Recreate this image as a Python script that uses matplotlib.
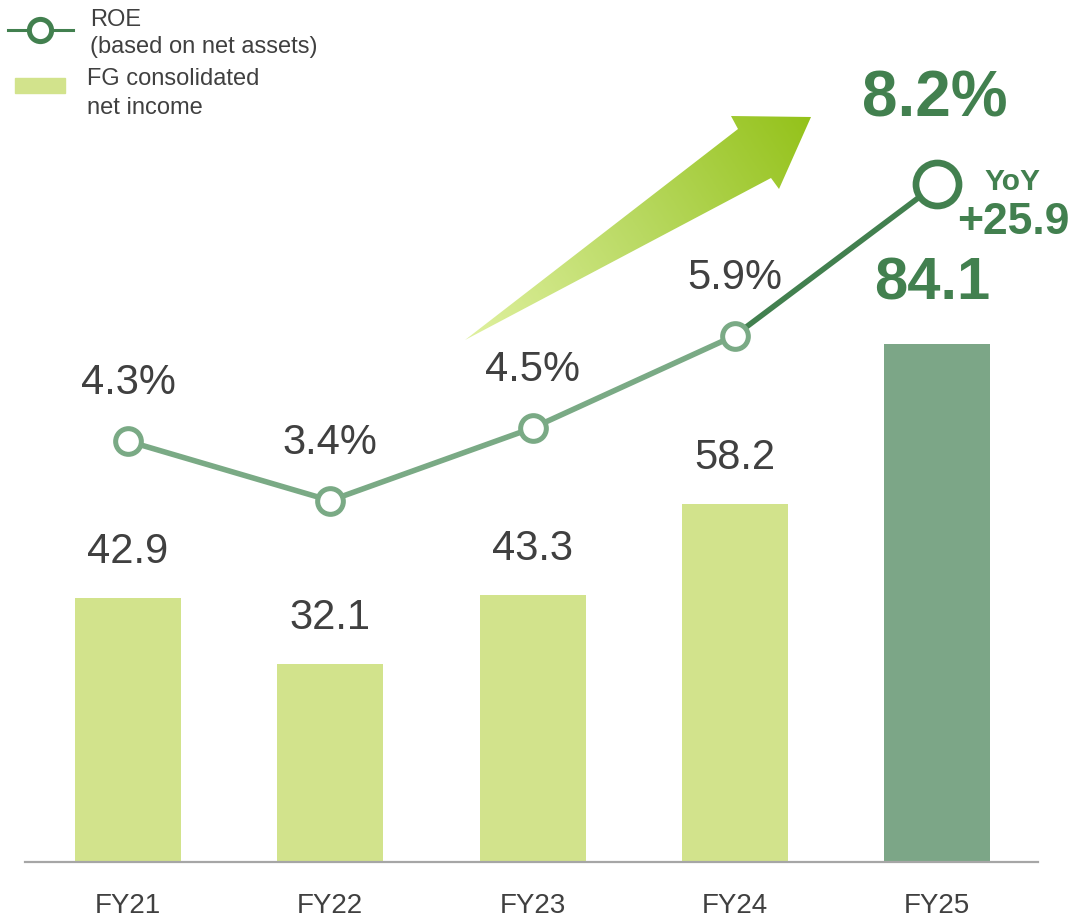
import matplotlib.pyplot as plt
import numpy as np
from matplotlib.path import Path
from matplotlib.patches import PathPatch, Rectangle
from matplotlib.colors import LinearSegmentedColormap

plt.rcParams['font.family'] = ['Liberation Sans', 'DejaVu Sans']

# data
years = ['FY21', 'FY22', 'FY23', 'FY24', 'FY25']
net_income = [42.9, 32.1, 43.3, 58.2, 84.1]
roe = [4.3, 3.4, 4.5, 5.9, 8.2]

# colours
bar_light = '#d2e38c'
bar_dark = '#7ca687'
line_light = '#7aaa85'
line_dark = '#42804f'
txt = '#404040'

W, H = 1076, 918
fig = plt.figure(figsize=(W / 100, H / 100), dpi=100)

# main axes: baseline at y=862 px, spans x 25..1038 px
ax = fig.add_axes([25 / W, (H - 862) / H, (1038 - 25) / W, 862 / H])
ax2 = ax.twinx()

x = np.arange(len(years))
colors = [bar_light] * (len(years) - 1) + [bar_dark]
ax.bar(x, net_income, width=0.524, color=colors, zorder=2)

ax.set_xlim(-0.509, 4.499)
ax.set_ylim(0, 140.0)
ax2.set_ylim(-2.076, 10.985)

for a in (ax, ax2):
    for s in ('top', 'right', 'left'):
        a.spines[s].set_visible(False)
    a.set_yticks([])
ax2.spines['bottom'].set_visible(False)
ax.spines['bottom'].set_color('#a6a6a6')
ax.spines['bottom'].set_linewidth(1.6)

ax.set_xticks(x)
ax.set_xticklabels(years, fontsize=20, color=txt)
ax.tick_params(axis='x', length=0, pad=22)

# ROE line
ax2.plot(x[:4], roe[:4], color=line_light, lw=4.0, zorder=3)
ax2.plot(x[3:], roe[3:], color=line_dark, lw=4.0, zorder=3)
ax2.plot(x[:4], roe[:4], 'o', ms=18.5, mfc='white', mec=line_light, mew=3.6, zorder=4)
ax2.plot(x[4:], roe[4:], 'o', ms=31, mfc='white', mec=line_dark, mew=4.8, zorder=4)

# labels
for i in range(4):
    ax.annotate(f'{net_income[i]:.1f}', (x[i], net_income[i]), xytext=(0, 46),
                textcoords='offset pixels', ha='center', va='center',
                fontsize=30, color=txt)
    ax2.annotate(f'{roe[i]:.1f}%', (x[i], roe[i]), xytext=(0, 58),
                 textcoords='offset pixels', ha='center', va='center',
                 fontsize=30, color=txt)
ax.annotate(f'{net_income[4]:.1f}', (x[4], net_income[4]), xytext=(-5, 60),
            textcoords='offset pixels', ha='center', va='center',
            fontsize=43, fontweight='bold', color=line_dark)
ax2.annotate(f'{roe[4]:.1f}%', (x[4], roe[4]), xytext=(-2, 84),
             textcoords='offset pixels', ha='center', va='center',
             fontsize=46, fontweight='bold', color=line_dark)
yoy = net_income[4] - net_income[3]
ax2.annotate('YoY', (x[4], roe[4]), xytext=(75, 2),
             textcoords='offset pixels', ha='center', va='center',
             fontsize=21.5, fontweight='bold', color=line_dark)
ax2.annotate(f'+{yoy:.1f}', (x[4], roe[4]), xytext=(76, -39),
             textcoords='offset pixels', ha='center', va='center',
             fontsize=32, fontweight='bold', color=line_dark)

# overlay in pixel coords for arrow and legend
ov = fig.add_axes([0, 0, 1, 1], zorder=5)
ov.set_xlim(0, W)
ov.set_ylim(H, 0)
ov.axis('off')
ov.patch.set_visible(False)

# gradient arrow
verts = [(465, 340), (738, 129), (731, 116), (811, 117), (779, 189), (771, 178), (465, 340)]
codes = [Path.MOVETO] + [Path.LINETO] * 5 + [Path.CLOSEPOLY]
arrow = PathPatch(Path(verts, codes), facecolor='none', edgecolor='none')
ov.add_patch(arrow)
gx, gy = np.meshgrid(np.linspace(460, 815, 300), np.linspace(110, 345, 200))
d = np.array([811 - 465, 117 - 340], float)
t = ((gx - 465) * d[0] + (gy - 340) * d[1]) / (d @ d)
cmap = LinearSegmentedColormap.from_list('arr', ['#e0f1a0', '#b9d962', '#94c21a'])
im = ov.imshow(np.clip(t, 0, 1), cmap=cmap, extent=(460, 815, 345, 110),
               origin='upper', aspect='auto', interpolation='bilinear')
im.set_clip_path(arrow)
ov.set_xlim(0, W)
ov.set_ylim(H, 0)

# legend
ov.plot([8, 73], [30, 30], color=line_dark, lw=2.2)
ov.plot([40], [30], 'o', ms=16, mfc='white', mec=line_dark, mew=3.6)
ov.text(90, 20, 'ROE', fontsize=17, color=txt, va='center', ha='left')
ov.text(90, 47, '(based on net assets)', fontsize=17, color=txt, va='center', ha='left')
ov.add_patch(Rectangle((15, 78), 50, 15, color=bar_light))
ov.text(87, 79, 'FG consolidated', fontsize=17, color=txt, va='center', ha='left')
ov.text(87, 108, 'net income', fontsize=17, color=txt, va='center', ha='left')

fig.savefig('out.png', dpi=100)
